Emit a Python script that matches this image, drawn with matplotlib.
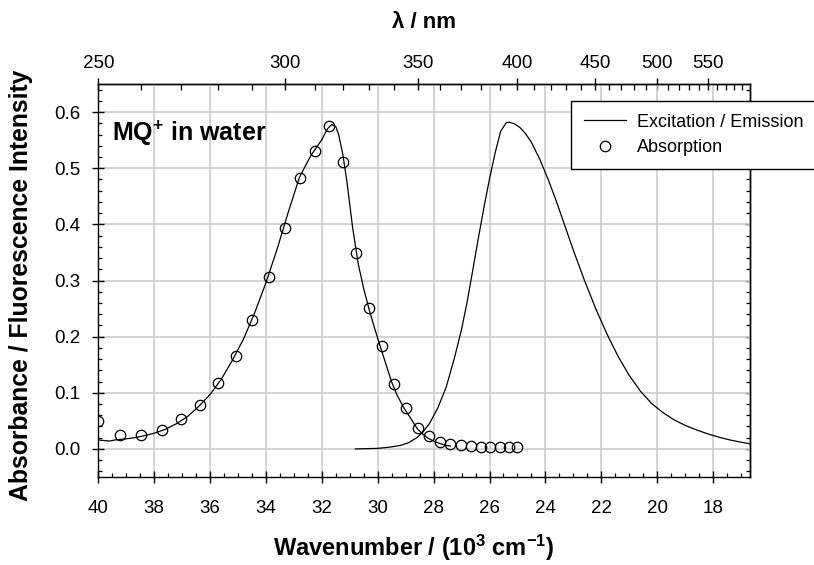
import numpy as np
import matplotlib
matplotlib.use('Agg')
import matplotlib.pyplot as plt
from matplotlib.ticker import MultipleLocator, FixedLocator, FormatStrFormatter, NullFormatter

plt.rcParams['font.family'] = ['Liberation Sans', 'DejaVu Sans']
plt.rcParams['mathtext.default'] = 'regular'

# ---------------- data ----------------
# Absorption (open circles), sampled every 5 nm
abs_nm = [250, 255, 260, 265, 270, 275, 280, 285, 290, 295, 300, 305, 310, 315,
          320, 325, 330, 335, 340, 345, 350, 355, 360, 365, 370, 375, 380, 385,
          390, 395, 400]
abs_val = [0.049, 0.025, 0.024, 0.034, 0.053, 0.078, 0.117, 0.166, 0.229, 0.306,
           0.394, 0.482, 0.530, 0.576, 0.511, 0.349, 0.251, 0.183, 0.115, 0.073,
           0.037, 0.023, 0.013, 0.009, 0.007, 0.0055, 0.004, 0.004, 0.003, 0.003,
           0.004]

# Excitation spectrum (line), x in 10^3 cm^-1
exc_wn = [40.0, 39.8, 39.6, 39.4, 39.2, 39.0, 38.7, 38.4, 38.0, 37.6, 37.2, 36.8,
          36.4, 36.0, 35.6, 35.2, 34.8, 34.4, 34.0, 33.6, 33.2, 32.8, 32.4, 32.0,
          31.8, 31.65, 31.5, 31.4, 31.25, 31.1, 30.9, 30.7, 30.5, 30.3, 30.1, 29.9,
          29.7, 29.5, 29.3, 29.05, 28.8, 28.6, 28.4, 28.2, 28.0, 27.8, 27.6, 27.4]
exc_val = [0.016, 0.015, 0.014, 0.016, 0.017, 0.018, 0.020, 0.023, 0.028, 0.035,
           0.045, 0.058, 0.076, 0.097, 0.124, 0.158, 0.196, 0.243, 0.296, 0.356,
           0.422, 0.484, 0.522, 0.551, 0.570, 0.578, 0.574, 0.560, 0.525, 0.475,
           0.395, 0.330, 0.285, 0.247, 0.213, 0.181, 0.150, 0.119, 0.095, 0.072,
           0.053, 0.037, 0.027, 0.019, 0.014, 0.010, 0.007, 0.005]

# Emission spectrum (line)
em_wn = [30.8, 30.4, 30.0, 29.6, 29.2, 28.9, 28.6, 28.4, 28.15, 27.85, 27.55, 27.25,
         27.0, 26.8, 26.6, 26.4, 26.2, 26.0, 25.8, 25.6, 25.4, 25.3, 25.1, 24.9,
         24.7, 24.5, 24.2, 23.9, 23.6, 23.3, 23.0, 22.6, 22.2, 21.8, 21.4, 21.0,
         20.6, 20.2, 19.8, 19.4, 19.0, 18.6, 18.2, 17.8, 17.4, 17.0, 16.67]
em_val = [0.000, 0.0005, 0.001, 0.003, 0.006, 0.011, 0.020, 0.029, 0.045, 0.073,
          0.110, 0.163, 0.213, 0.262, 0.318, 0.375, 0.430, 0.481, 0.527, 0.566,
          0.581, 0.582, 0.579, 0.572, 0.561, 0.546, 0.516, 0.480, 0.440, 0.397,
          0.354, 0.300, 0.250, 0.205, 0.165, 0.131, 0.103, 0.081, 0.065, 0.052,
          0.042, 0.034, 0.027, 0.021, 0.016, 0.012, 0.009]

bottom_ticks = [40, 38, 36, 34, 32, 30, 28, 26, 24, 22, 20, 18]
y_ticks = [0.0, 0.1, 0.2, 0.3, 0.4, 0.5, 0.6]
top_major_nm = [250, 300, 350, 400, 450, 500, 550]
top_minor_nm = [260, 270, 280, 290, 310, 320, 330, 340, 360, 370, 380, 390,
                410, 420, 430, 440, 460, 470, 480, 490, 510, 520, 530, 540,
                560, 570, 580, 590]

# ---------------- figure ----------------
W, H = 814, 565
fig = plt.figure(figsize=(W / 100, H / 100), dpi=100)
L, R, T, B = 98.3, 750.3, 84.0, 477.0
ax = fig.add_axes([L / W, 1 - B / H, (R - L) / W, (B - T) / H])

ax.set_xlim(40, 1e4 / 600)
ax.set_ylim(-0.05, 0.65)

ax.grid(True, which='major', color='#cccccc', lw=1.2)
ax.set_axisbelow(True)

l1, = ax.plot(exc_wn, exc_val, color='black', lw=0.9, label='Excitation / Emission')
ax.plot(em_wn, em_val, color='black', lw=0.9)
abs_wn = 1e4 / np.array(abs_nm, dtype=float)
l3, = ax.plot(abs_wn, abs_val, 'o', mfc='none', mec='black', ms=7.5, mew=0.9,
              label='Absorption')

# bottom / left ticks
ax.xaxis.set_major_locator(FixedLocator(bottom_ticks))
ax.xaxis.set_minor_locator(MultipleLocator(0.5))
ax.yaxis.set_major_locator(FixedLocator(y_ticks))
ax.yaxis.set_minor_locator(MultipleLocator(0.02))
ax.yaxis.set_major_formatter(FormatStrFormatter('%.1f'))
ax.xaxis.set_major_formatter(FormatStrFormatter('%d'))
ax.tick_params(which='major', direction='inout', length=8.6, width=1.0,
               labelsize=13.5, top=False, right=False, color='black')
ax.tick_params(which='minor', direction='in', length=3.0, width=0.9,
               top=False, right=False)
ax.tick_params(axis='x', which='major', pad=12.0)
ax.tick_params(axis='y', which='major', pad=8.5)
for sp in ax.spines.values():
    sp.set_linewidth(1.0)

# right axis: inward ticks only
ident = (lambda y: y, lambda y: y)
rax = ax.secondary_yaxis('right', functions=ident)
rax.yaxis.set_major_locator(FixedLocator(y_ticks))
rax.yaxis.set_minor_locator(MultipleLocator(0.02))
rax.yaxis.set_major_formatter(NullFormatter())
rax.tick_params(which='major', direction='in', length=3.5, width=1.0)
rax.tick_params(which='minor', direction='in', length=3.0, width=0.9)
rax.spines['right'].set_linewidth(1.0)

# top axis: wavelength
conv = (lambda x: 1e4 / x, lambda x: 1e4 / x)
tax = ax.secondary_xaxis('top', functions=conv)
tax.xaxis.set_major_locator(FixedLocator(top_major_nm))
tax.xaxis.set_minor_locator(FixedLocator(top_minor_nm))
tax.xaxis.set_major_formatter(FormatStrFormatter('%d'))
tax.xaxis.set_minor_formatter(NullFormatter())
tax.tick_params(which='major', direction='inout', length=8.6, width=1.0,
                labelsize=13.5, pad=4.0)
tax.tick_params(which='minor', direction='in', length=4.5, width=0.9)
tax.spines['top'].set_linewidth(1.0)

# labels
fig.text(424 / W, 1 - 22 / H, 'λ / nm', fontsize=16, fontweight='bold',
         ha='center', va='center')
fig.text(414 / W, 1 - 548 / H, 'Wavenumber / (10$^3$ cm$^{-1}$)', fontsize=17,
         fontweight='bold', ha='center', va='center')
fig.text(21 / W, 1 - 285 / H, 'Absorbance / Fluorescence Intensity', fontsize=17.8,
         fontweight='bold', ha='center', va='center', rotation=90)

ax.text(0.021, 0.855, 'MQ$^{+}$ in water', transform=ax.transAxes, fontsize=18,
        fontweight='bold', ha='left', va='baseline')

leg = fig.legend(handles=[l1, l3], loc='upper left',
                 bbox_to_anchor=(571 / W, 1 - 100.7 / H, 300 / W, 0),
                 bbox_transform=fig.transFigure, mode='expand', fontsize=13,
                 frameon=True, fancybox=False, edgecolor='black', framealpha=1,
                 borderpad=0.72, handlelength=2.3, handletextpad=0.65,
                 labelspacing=0.46, borderaxespad=0)
leg.get_frame().set_linewidth(1.0)

fig.savefig('out.png', dpi=100)
